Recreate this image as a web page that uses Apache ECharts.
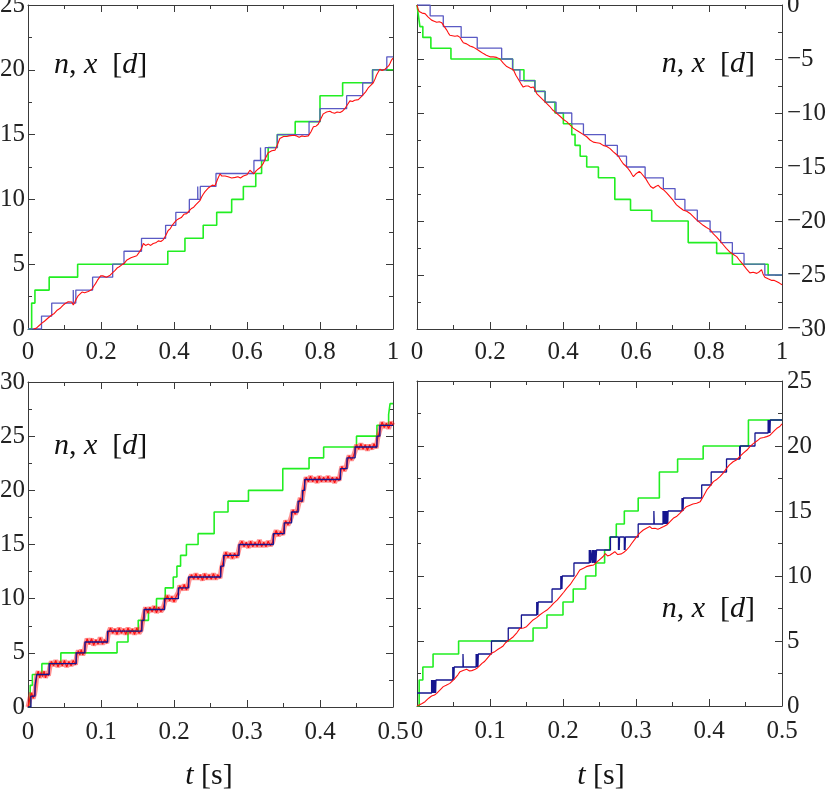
<!DOCTYPE html>
<html>
<head>
<meta charset="utf-8">
<script src="https://cdn.jsdelivr.net/npm/echarts@6/dist/echarts.min.js"></script>
<style>html,body{margin:0;padding:0;background:#fff}#c{width:830px;height:805px}</style>
</head>
<body>
<div id="c"></div>
<script>
// ---------- data (t [s], value [d]) ----------
const greenTL = [[0,0],[0.01,2],[0.019,3],[0.058,4],[0.136,5],[0.383,6],[0.43,7],[0.48,8],[0.517,9],[0.558,10],[0.59,11],[0.624,12],[0.64,13],[0.658,14],[0.683,15],[0.732,16],[0.8,18],[0.862,19],[0.944,20],[1.0,20]];
const blueTL = [[0,0],[0.037,1],[0.065,2],[0.124,3],[0.1245,2],[0.131,3],[0.177,4],[0.232,5],[0.263,6],[0.311,7],[0.377,8],[0.405,9],[0.442,10],[0.465,11],[0.4655,10],[0.472,11],[0.515,12],[0.619,13],[0.637,14],[0.6375,13],[0.65,14],[0.683,15],[0.77,16],[0.8,17],[0.873,18],[0.917,19],[0.944,20],[0.983,21],[1.0,21]];
const redTL = [[0.015,0],[0.022,0.05],[0.03,0.25],[0.038,0.45],[0.045,0.6],[0.055,0.85],[0.065,1.08],[0.072,1.2],[0.08,1.45],[0.088,1.6],[0.095,1.8],[0.101,1.95],[0.106,2.0],[0.11,2.1],[0.115,2.0],[0.12,2.08],[0.124,1.85],[0.128,2.05],[0.132,2.3],[0.137,2.55],[0.142,2.7],[0.148,2.85],[0.155,2.8],[0.16,2.95],[0.165,2.9],[0.17,3.0],[0.175,3.05],[0.18,3.3],[0.185,3.5],[0.19,3.75],[0.193,3.9],[0.199,4.1],[0.205,4.1],[0.21,4.2],[0.215,4.0],[0.22,4.1],[0.225,4.15],[0.232,4.35],[0.238,4.5],[0.244,4.7],[0.25,4.8],[0.257,4.95],[0.263,5.05],[0.27,5.3],[0.275,5.3],[0.282,5.5],[0.288,5.56],[0.293,5.7],[0.298,5.65],[0.303,5.85],[0.307,5.95],[0.311,6.2],[0.316,6.6],[0.322,6.45],[0.33,6.55],[0.336,6.45],[0.343,6.6],[0.35,6.65],[0.357,6.8],[0.364,6.75],[0.371,6.9],[0.377,7.2],[0.384,7.6],[0.39,7.75],[0.395,8.0],[0.401,8.2],[0.407,8.4],[0.413,8.5],[0.42,8.6],[0.427,8.85],[0.435,8.9],[0.441,9.1],[0.448,9.3],[0.454,9.4],[0.46,9.6],[0.465,9.7],[0.471,9.9],[0.476,10.2],[0.48,10.4],[0.485,10.6],[0.49,10.7],[0.495,10.9],[0.499,11.0],[0.505,11.1],[0.512,11.05],[0.516,11.3],[0.52,11.6],[0.526,11.97],[0.531,11.8],[0.535,11.9],[0.54,11.8],[0.544,11.9],[0.548,11.75],[0.553,11.8],[0.558,11.65],[0.562,11.77],[0.568,11.7],[0.575,11.75],[0.582,11.65],[0.59,11.8],[0.595,11.75],[0.6,11.9],[0.604,12.0],[0.608,12.25],[0.613,12.1],[0.619,11.97],[0.625,12.2],[0.631,12.35],[0.638,12.5],[0.645,12.8],[0.651,13.2],[0.658,13.6],[0.663,13.6],[0.668,13.75],[0.672,13.65],[0.677,13.8],[0.683,14.2],[0.69,14.7],[0.695,14.75],[0.7,14.85],[0.705,14.75],[0.709,14.85],[0.715,14.9],[0.72,14.8],[0.728,14.95],[0.736,14.9],[0.743,14.8],[0.75,14.9],[0.758,14.85],[0.768,14.9],[0.775,15.2],[0.782,15.6],[0.789,15.65],[0.795,15.8],[0.802,16.2],[0.809,16.6],[0.814,16.65],[0.818,16.75],[0.822,16.65],[0.827,16.8],[0.833,16.7],[0.84,16.65],[0.847,16.75],[0.855,16.7],[0.861,16.8],[0.868,17.0],[0.875,17.3],[0.882,17.6],[0.889,17.55],[0.895,17.65],[0.9,17.6],[0.905,17.7],[0.912,17.9],[0.919,18.1],[0.925,18.3],[0.932,18.6],[0.939,18.8],[0.946,19.0],[0.951,19.3],[0.955,19.6],[0.96,19.85],[0.964,20.05],[0.97,19.95],[0.978,20.05],[0.983,20.1],[0.988,20.3],[0.992,20.5],[0.996,20.75],[1.0,20.9]];

const greenTR = [[0,0],[0.004,-1],[0.008,-2],[0.016,-3],[0.038,-4],[0.093,-5],[0.262,-6],[0.293,-7],[0.323,-8],[0.351,-9],[0.378,-10],[0.401,-11],[0.424,-12],[0.433,-13],[0.447,-14],[0.465,-15],[0.497,-16],[0.542,-18],[0.585,-19],[0.643,-20],[0.743,-22],[0.821,-23],[0.864,-24],[0.962,-25],[1.0,-25]];
const blueTR = [[0,0],[0.036,-1],[0.072,-2],[0.121,-3],[0.165,-4],[0.232,-5],[0.262,-6],[0.282,-7],[0.323,-8],[0.351,-9],[0.381,-10],[0.424,-11],[0.456,-12],[0.516,-13],[0.549,-14],[0.574,-15],[0.625,-16],[0.675,-17],[0.707,-18],[0.734,-19],[0.768,-20],[0.803,-21],[0.832,-22],[0.864,-23],[0.896,-24],[0.953,-25],[1.0,-25]];
const redTR = [[0,0],[0.003,-0.4],[0.006,-0.6],[0.014,-0.75],[0.022,-0.8],[0.03,-1.1],[0.04,-1.4],[0.047,-1.5],[0.054,-1.6],[0.061,-1.55],[0.068,-1.65],[0.075,-2.0],[0.081,-2.3],[0.086,-2.6],[0.09,-2.8],[0.097,-2.85],[0.104,-2.9],[0.111,-2.85],[0.118,-3.0],[0.122,-3.25],[0.127,-3.5],[0.136,-3.6],[0.145,-3.8],[0.154,-3.9],[0.164,-4.1],[0.173,-4.3],[0.182,-4.5],[0.19,-4.65],[0.2,-4.8],[0.209,-4.8],[0.218,-4.85],[0.223,-4.95],[0.227,-5.0],[0.237,-5.4],[0.246,-5.7],[0.255,-5.85],[0.264,-6.0],[0.271,-6.5],[0.278,-6.9],[0.285,-7.3],[0.291,-7.6],[0.298,-7.5],[0.305,-7.5],[0.312,-7.65],[0.319,-7.6],[0.324,-7.9],[0.328,-8.2],[0.337,-8.5],[0.346,-8.8],[0.355,-9.1],[0.364,-9.4],[0.371,-9.7],[0.378,-9.9],[0.385,-10.1],[0.392,-10.3],[0.401,-10.6],[0.41,-10.8],[0.419,-11.1],[0.428,-11.4],[0.437,-11.6],[0.447,-11.8],[0.456,-12.0],[0.465,-12.2],[0.474,-12.5],[0.483,-12.7],[0.492,-12.75],[0.501,-12.8],[0.51,-13.0],[0.52,-13.1],[0.529,-13.3],[0.538,-13.6],[0.545,-13.8],[0.552,-14.0],[0.558,-14.35],[0.565,-14.7],[0.575,-15.0],[0.584,-15.4],[0.589,-15.7],[0.593,-15.9],[0.601,-15.6],[0.609,-15.4],[0.615,-15.6],[0.62,-15.7],[0.627,-16.1],[0.634,-16.5],[0.64,-16.8],[0.647,-16.97],[0.654,-16.8],[0.661,-16.7],[0.668,-16.95],[0.675,-17.1],[0.684,-17.4],[0.693,-17.75],[0.702,-18.1],[0.711,-18.5],[0.72,-18.75],[0.73,-19.0],[0.739,-19.1],[0.748,-19.3],[0.757,-19.6],[0.766,-19.9],[0.775,-20.15],[0.784,-20.4],[0.793,-20.6],[0.803,-20.8],[0.812,-21.2],[0.821,-21.5],[0.83,-21.85],[0.839,-22.2],[0.848,-22.55],[0.858,-22.9],[0.867,-23.1],[0.876,-23.3],[0.885,-23.7],[0.894,-24.07],[0.903,-24.45],[0.912,-24.8],[0.921,-24.75],[0.931,-24.85],[0.938,-24.7],[0.944,-24.5],[0.948,-24.9],[0.953,-25.2],[0.962,-25.35],[0.972,-25.5],[0.979,-25.5],[0.985,-25.6],[0.993,-25.75],[1.0,-25.9]];

const greenBL = [[0,0],[0.003,2],[0.006,3],[0.019,4],[0.045,5],[0.122,6],[0.137,7],[0.151,8],[0.165,9],[0.176,10],[0.188,11],[0.199,12],[0.204,13],[0.209,14],[0.217,15],[0.233,16],[0.255,18],[0.274,19],[0.302,20],[0.349,22],[0.385,23],[0.405,24],[0.45,25],[0.478,26],[0.494,27],[0.496,28],[0.5,28]];
const blueBL = [[0,0],[0.004,1],[0.0096,2],[0.012,3],[0.029,4],[0.066,5],[0.078,6],[0.109,7],[0.156,8],[0.159,9],[0.187,10],[0.206,11],[0.22,12],[0.264,13],[0.268,14],[0.289,15],[0.336,16],[0.351,17],[0.361,18],[0.37,19],[0.376,20],[0.379,21],[0.428,22],[0.437,23],[0.448,24],[0.478,25],[0.482,26],[0.5,26]];
const redBL = [[0,0],[0.003,0.9],[0.005,1.3],[0.007,0.8],[0.009,1.2],[0.010,1.6],[0.011,2.2],[0.012,2.9],[0.014,3.3],[0.016,2.7],[0.018,3.2],[0.02,2.8],[0.022,3.3],[0.024,2.7],[0.026,3.1],[0.028,2.9],[0.03,3.7],[0.032,4.2],[0.035,3.8],[0.038,4.3],[0.041,3.7],[0.044,4.2],[0.047,3.8],[0.05,4.3],[0.053,3.7],[0.056,4.2],[0.059,3.8],[0.062,4.3],[0.065,3.9],[0.067,4.8],[0.069,5.2],[0.071,4.8],[0.073,5.3],[0.075,4.8],[0.077,5.1],[0.079,5.8],[0.081,6.3],[0.084,5.8],[0.087,6.3],[0.09,5.7],[0.093,6.2],[0.096,5.8],[0.099,6.4],[0.102,5.8],[0.105,6.2],[0.108,5.9],[0.11,6.8],[0.113,7.3],[0.116,6.8],[0.119,7.2],[0.122,6.7],[0.125,7.3],[0.128,6.8],[0.131,7.2],[0.134,6.7],[0.137,7.3],[0.14,6.8],[0.143,7.2],[0.146,6.7],[0.149,7.3],[0.152,6.8],[0.155,7.1],[0.157,7.9],[0.159,8.6],[0.161,9.2],[0.164,8.7],[0.167,9.2],[0.17,8.8],[0.173,9.3],[0.176,8.7],[0.179,9.2],[0.182,8.8],[0.185,9.1],[0.188,9.8],[0.191,10.3],[0.194,9.8],[0.197,10.2],[0.2,9.7],[0.203,10.2],[0.206,10.6],[0.208,11.2],[0.211,10.8],[0.214,11.3],[0.217,10.8],[0.219,11.2],[0.221,11.8],[0.224,12.2],[0.227,11.8],[0.23,12.3],[0.233,11.8],[0.236,12.2],[0.239,11.7],[0.242,12.3],[0.245,11.8],[0.248,12.2],[0.251,11.8],[0.254,12.3],[0.257,11.8],[0.26,12.2],[0.263,11.9],[0.265,12.8],[0.267,13.3],[0.269,13.8],[0.271,14.3],[0.274,13.8],[0.277,14.2],[0.28,13.7],[0.283,14.2],[0.286,13.8],[0.288,14.3],[0.29,14.9],[0.293,15.3],[0.296,14.8],[0.299,15.2],[0.302,14.7],[0.305,15.3],[0.308,14.8],[0.311,15.2],[0.314,14.8],[0.317,15.4],[0.32,14.8],[0.323,15.2],[0.326,14.8],[0.329,15.3],[0.332,14.9],[0.335,15.2],[0.337,15.8],[0.34,16.3],[0.343,15.8],[0.346,16.2],[0.349,15.9],[0.351,16.6],[0.353,17.2],[0.356,16.8],[0.359,17.2],[0.361,17.6],[0.363,18.2],[0.366,17.8],[0.369,18.2],[0.371,18.8],[0.373,19.3],[0.375,18.9],[0.377,19.8],[0.379,20.6],[0.381,21.2],[0.384,20.8],[0.387,21.3],[0.39,20.8],[0.393,21.2],[0.396,20.7],[0.399,21.3],[0.402,20.8],[0.405,21.2],[0.408,20.8],[0.411,21.3],[0.414,20.8],[0.417,21.2],[0.42,20.7],[0.423,21.2],[0.426,20.9],[0.428,21.6],[0.43,22.2],[0.433,21.8],[0.436,22.2],[0.438,22.8],[0.44,23.2],[0.443,22.8],[0.446,23.2],[0.448,23.6],[0.45,24.2],[0.453,23.8],[0.456,24.3],[0.459,23.8],[0.462,24.2],[0.465,23.7],[0.468,24.2],[0.471,23.8],[0.474,24.3],[0.477,23.9],[0.479,24.8],[0.481,25.3],[0.483,25.8],[0.485,26.3],[0.488,25.8],[0.491,26.2],[0.494,25.7],[0.497,26.3],[0.5,26.0]];

const greenBR = [[0,0],[0.003,2],[0.008,3],[0.022,4],[0.057,5],[0.159,6],[0.178,7],[0.2,8],[0.214,9],[0.231,10],[0.245,11],[0.257,12],[0.264,13],[0.273,14],[0.284,15],[0.303,16],[0.332,18],[0.357,19],[0.392,20],[0.454,22],[0.5,22]];
const blueBR = [[0,1],[0.02,2],[0.0205,1],[0.021,2],[0.0215,1],[0.022,2],[0.0225,1],[0.023,2],[0.0235,1],[0.024,2],[0.0245,1],[0.025,2],[0.0255,1],[0.026,2],[0.049,3],[0.0495,2],[0.05,3],[0.0505,2],[0.051,3],[0.063,4],[0.0635,3],[0.081,4],[0.0815,3],[0.082,4],[0.0825,3],[0.083,4],[0.0835,3],[0.084,4],[0.102,5],[0.125,6],[0.143,7],[0.164,8],[0.1645,7],[0.165,8],[0.1655,7],[0.166,8],[0.185,9],[0.197,10],[0.1975,9],[0.198,10],[0.1985,9],[0.199,10],[0.215,11],[0.236,12],[0.2365,11],[0.237,12],[0.2375,11],[0.238,12],[0.24,11],[0.2405,12],[0.241,11],[0.2415,12],[0.243,11],[0.2435,12],[0.244,11],[0.2445,12],[0.245,11],[0.246,12],[0.265,13],[0.276,12],[0.2765,13],[0.277,12],[0.2775,13],[0.284,12],[0.2845,13],[0.285,12],[0.2855,13],[0.303,14],[0.3245,15],[0.325,14],[0.337,15],[0.3375,14],[0.338,15],[0.3385,14],[0.339,15],[0.3395,14],[0.34,15],[0.3405,14],[0.341,15],[0.3415,14],[0.342,15],[0.3425,14],[0.343,15],[0.3435,14],[0.344,15],[0.363,16],[0.3635,15],[0.364,16],[0.3645,15],[0.365,16],[0.39,17],[0.403,18],[0.424,19],[0.442,20],[0.4425,19],[0.443,20],[0.463,21],[0.481,22],[0.4815,21],[0.482,22],[0.4825,21],[0.483,22],[0.4835,21],[0.484,22],[0.5,22]];
const redBR = [[0,0],[0.003,0.08],[0.007,0.2],[0.011,0.33],[0.016,0.6],[0.02,0.77],[0.024,0.85],[0.027,0.97],[0.031,1.2],[0.036,1.49],[0.04,1.6],[0.045,1.74],[0.049,1.95],[0.052,2.13],[0.056,2.4],[0.059,2.64],[0.064,2.75],[0.068,2.82],[0.072,2.7],[0.075,2.72],[0.079,2.8],[0.082,2.9],[0.086,3.1],[0.089,3.28],[0.092,3.4],[0.095,3.59],[0.099,3.85],[0.102,4.05],[0.107,4.2],[0.111,4.36],[0.115,4.5],[0.118,4.62],[0.121,4.85],[0.125,5.03],[0.128,5.15],[0.132,5.33],[0.137,5.65],[0.141,5.97],[0.146,6.0],[0.15,6.1],[0.155,6.4],[0.159,6.62],[0.164,6.8],[0.168,7.0],[0.173,7.2],[0.178,7.38],[0.183,7.65],[0.187,7.9],[0.192,8.15],[0.196,8.41],[0.201,8.75],[0.205,9.05],[0.21,9.35],[0.214,9.69],[0.219,10.1],[0.223,10.46],[0.228,10.6],[0.232,10.72],[0.237,10.8],[0.242,10.85],[0.247,11.1],[0.251,11.3],[0.255,11.5],[0.258,11.72],[0.261,11.55],[0.264,11.6],[0.268,11.75],[0.271,11.87],[0.275,11.65],[0.28,11.7],[0.284,11.85],[0.287,12.0],[0.291,12.25],[0.294,12.5],[0.298,12.8],[0.301,13.03],[0.305,13.3],[0.31,13.54],[0.315,13.7],[0.319,13.8],[0.322,13.65],[0.326,13.67],[0.33,13.6],[0.333,13.67],[0.338,13.8],[0.342,13.92],[0.347,14.2],[0.351,14.44],[0.356,14.6],[0.36,14.82],[0.365,15.1],[0.369,15.33],[0.374,15.45],[0.378,15.54],[0.383,15.6],[0.388,15.72],[0.392,16.1],[0.397,16.62],[0.402,16.95],[0.406,17.26],[0.41,17.4],[0.415,17.64],[0.42,17.95],[0.424,18.28],[0.428,18.55],[0.433,18.79],[0.438,18.95],[0.442,19.18],[0.447,19.45],[0.452,19.69],[0.456,19.95],[0.461,20.2],[0.466,20.4],[0.47,20.59],[0.475,20.65],[0.479,20.72],[0.483,20.8],[0.486,20.97],[0.49,21.2],[0.493,21.36],[0.497,21.5],[0.5,21.7]];

// axis ranges: [xMin, xMax, xInterval, yMin, yMax, yInterval, labelSide]
const panelAxes = [
  [0, 1, 0.2, 0, 25, 5, 'left'],
  [0, 1, 0.2, -30, 0, 5, 'right'],
  [0, 0.5, 0.1, 0, 30, 5, 'left'],
  [0, 0.5, 0.1, 0, 25, 5, 'right']
];
const axisTitle = ['t', '[s]'];
const panelTitle = ['n', ',', 'x', '[', 'd', ']'];

// ---------- layout ----------
const grids = [
  {left: 28, top: 5, width: 365, height: 324},
  {left: 417, top: 5, width: 365, height: 324},
  {left: 28, top: 382, width: 365, height: 325},
  {left: 417, top: 381, width: 365, height: 325}
];
const FONT = 'Liberation Serif';
const AX = '#3a3a3a';
const GREEN = '#22ee22', BLUE_L = '#5a5ac4', BLUE_D = '#15158f', RED = '#ff1010';
const TICK_FS = 25;

const xAxes = [], yAxes = [];
panelAxes.forEach((p, g) => {
  const [x0, x1, xi, y0, y1, yi, side] = p;
  const common = () => ({
    axisLine: {show: true, onZero: false, lineStyle: {color: AX, width: 1}},
    axisTick: {show: true, inside: true, length: 7, lineStyle: {color: AX}},
    minorTick: {show: true, splitNumber: 2, length: 4, lineStyle: {color: AX}},
    splitLine: {show: false},
    minorSplitLine: {show: false}
  });
  const xl = (v) => String(+v.toFixed(2));
  xAxes.push(Object.assign({type: 'value', gridIndex: g, position: 'bottom', min: x0, max: x1, interval: xi,
    axisLabel: {show: true, margin: g < 2 ? 11 : 13, fontFamily: FONT, fontSize: TICK_FS, color: '#222', formatter: xl}}, common()));
  xAxes.push(Object.assign({type: 'value', gridIndex: g, position: 'top', min: x0, max: x1, interval: xi,
    axisLabel: {show: false}}, common()));
  const yl = (v) => v < 0 ? '\u2212' + (-v) : String(v);
  yAxes.push(Object.assign({type: 'value', gridIndex: g, position: side, min: y0, max: y1, interval: yi,
    axisLabel: {show: true, margin: side === 'left' ? 3 : 5, fontFamily: FONT, fontSize: TICK_FS, color: '#222', formatter: yl}}, common()));
  yAxes.push(Object.assign({type: 'value', gridIndex: g, position: side === 'left' ? 'right' : 'left', min: y0, max: y1, interval: yi,
    axisLabel: {show: false}}, common()));
});

function stepS(data, g, color, width, z) {
  return {type: 'line', data, xAxisIndex: 2 * g, yAxisIndex: 2 * g, step: 'end', symbol: 'none', showSymbol: false,
    lineStyle: {color, width}, z, silent: true, animation: false, clip: true};
}
function lineS(data, g, color, width, z, opacity) {
  return {type: 'line', data, xAxisIndex: 2 * g, yAxisIndex: 2 * g, symbol: 'none', showSymbol: false,
    lineStyle: {color, width, opacity: opacity == null ? 1 : opacity}, z, silent: true, animation: false, clip: true};
}

const series = [
  stepS(greenTL, 0, GREEN, 1.6, 2), stepS(blueTL, 0, BLUE_L, 1.3, 3), lineS(redTL, 0, RED, 1.1, 4),
  stepS(greenTR, 1, GREEN, 1.6, 2), stepS(blueTR, 1, BLUE_L, 1.3, 3), lineS(redTR, 1, RED, 1.1, 4),
  stepS(greenBL, 2, GREEN, 1.6, 2), lineS(redBL, 2, RED, 5, 3, 0.45), lineS(redBL, 2, RED, 1.2, 4), stepS(blueBL, 2, BLUE_D, 1.4, 5),
  stepS(greenBR, 3, GREEN, 1.6, 2), stepS(blueBR, 3, BLUE_D, 1.3, 3), lineS(redBR, 3, RED, 1.1, 4)
];

const LFS = 30;
const rich = {
  i: {fontFamily: FONT, fontStyle: 'italic', fontSize: LFS, fill: '#111'},
  r: {fontFamily: FONT, fontSize: LFS, fill: '#111'}
};
const [pn, pc, px, pb1, pd, pb2] = panelTitle;
const nxd = '{i|' + pn + '}{r|' + pc + '} {i|' + px + '}  {r|' + pb1 + '}{i|' + pd + '}{r|' + pb2 + '}';
function label(x, y, align) {
  return {type: 'text', x, y, z: 100, silent: true,
    style: {text: nxd, rich, align, verticalAlign: 'middle', fontFamily: FONT, fontSize: LFS, fill: '#111'}};
}
function tLabel(x, y) {
  return {type: 'text', x, y, z: 100, silent: true,
    style: {text: '{i|' + axisTitle[0] + '} {r|' + axisTitle[1] + '}', rich, align: 'center', verticalAlign: 'middle',
      fontFamily: FONT, fontSize: LFS}};
}

const chart = echarts.init(document.getElementById('c'), null, {renderer: 'canvas'});
chart.setOption({
  backgroundColor: '#fff',
  animation: false,
  textStyle: {fontFamily: FONT},
  grid: grids.map(g => Object.assign({containLabel: false, outerBoundsMode: 'none'}, g)),
  xAxis: xAxes,
  yAxis: yAxes,
  series,
  graphic: [
    label(54, 65, 'left'), label(755, 64, 'right'),
    label(54, 446, 'left'), label(755, 609, 'right'),
    tLabel(209, 776), tLabel(601, 776)
  ]
});
</script>
</body>
</html>
